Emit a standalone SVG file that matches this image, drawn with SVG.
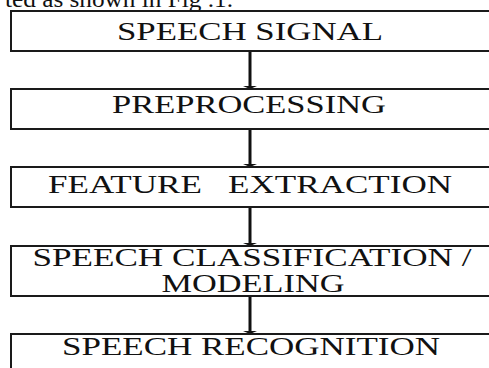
<svg xmlns="http://www.w3.org/2000/svg" width="489" height="368" viewBox="0 0 489 368">
  <style>
    .box { fill: #ffffff; stroke: #1a1a1a; stroke-width: 2; }
    .lbl { font-family: "Liberation Serif", "Times New Roman", serif; font-size: 25px; fill: #111111; text-anchor: middle; }
    .cap { font-family: "Liberation Serif", "Times New Roman", serif; font-size: 24px; fill: #111111; }
    .wire { stroke: #111111; stroke-width: 3; fill: none; }
    .head { fill: #111111; }
  </style>
  <rect width="489" height="368" fill="#ffffff"/>

  <!-- running text of the page above the chart -->
  <text class="cap" x="5" y="7" textLength="228" lengthAdjust="spacingAndGlyphs">ted as shown in Fig .1.</text>

  <g id="connectors">
    <line class="wire" x1="250" y1="51" x2="250" y2="86"/>
    <polygon class="head" points="243,86 257,86 250,89"/>
    <line class="wire" x1="250" y1="129" x2="250" y2="164"/>
    <polygon class="head" points="243,164 257,164 250,167"/>
    <line class="wire" x1="250" y1="207" x2="250" y2="243"/>
    <polygon class="head" points="243,243 257,243 250,246"/>
    <line class="wire" x1="250" y1="296" x2="250" y2="331"/>
    <polygon class="head" points="243,331 257,331 250,334"/>
  </g>

  <g id="speech-signal">
    <rect class="box" x="11" y="11" width="490" height="40"/>
    <text class="lbl" x="250" y="40" textLength="266" lengthAdjust="spacingAndGlyphs">SPEECH SIGNAL</text>
  </g>

  <g id="preprocessing">
    <rect class="box" x="11" y="89" width="490" height="40"/>
    <text class="lbl" x="249" y="113" textLength="274" lengthAdjust="spacingAndGlyphs">PREPROCESSING</text>
  </g>

  <g id="feature-extraction">
    <rect class="box" x="11" y="167" width="490" height="40"/>
    <text class="lbl" x="250" y="193" textLength="404" lengthAdjust="spacingAndGlyphs" xml:space="preserve">FEATURE   EXTRACTION</text>
  </g>

  <g id="classification">
    <rect class="box" x="11" y="246" width="490" height="50"/>
    <text class="lbl" x="252" y="266" textLength="439" lengthAdjust="spacingAndGlyphs">SPEECH CLASSIFICATION /</text>
    <text class="lbl" x="253" y="292" textLength="183" lengthAdjust="spacingAndGlyphs">MODELING</text>
  </g>

  <g id="speech-recognition">
    <rect class="box" x="11" y="334" width="490" height="46"/>
    <text class="lbl" x="251" y="355" textLength="378" lengthAdjust="spacingAndGlyphs">SPEECH RECOGNITION</text>
  </g>
</svg>
